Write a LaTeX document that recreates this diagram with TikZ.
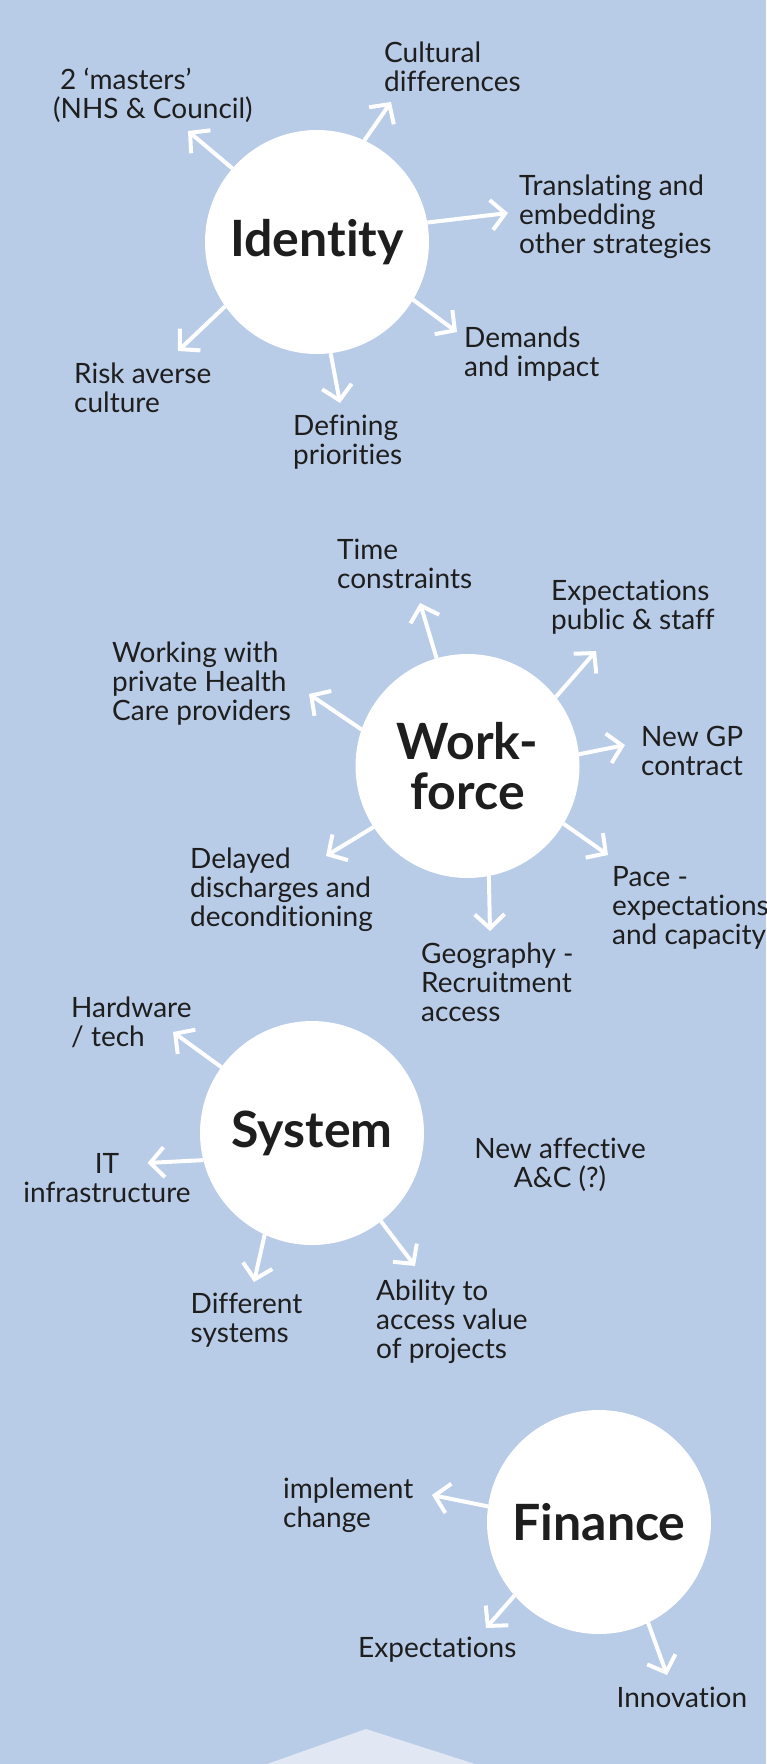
\documentclass[tikz,border=0pt]{standalone}
\usepackage{fontspec}
\setmainfont{Lato}[Ligatures={TeX,NoCommon}]
\usetikzlibrary{arrows.meta}

\definecolor{bgblue}{HTML}{B8CBE7}
\definecolor{paleblue}{HTML}{E1E8F4}
\definecolor{inkgray}{HTML}{1E1E1E}

\tikzset{
  topic/.style={circle, fill=white, minimum size=224pt, inner sep=0pt, outer sep=0pt,
    font=\fontsize{50}{50}\selectfont\bfseries, text=inkgray, align=center},
  lbl/.style={anchor=north west, yshift=20.3pt, inner sep=0pt, align=left,
    font=\fontsize{28}{29}\selectfont, text=inkgray},
  spoke/.style={white, line width=4pt, -{Straight Barb[length=14pt,width=30pt]}}
}

\begin{document}
\begin{tikzpicture}[x=1pt, y=-1pt]
  % background
  \fill[bgblue] (0,0) rectangle (766,1764);
  \useasboundingbox (0,0) rectangle (766,1764);
  \fill[paleblue] (366,1729) -- (475,1764) -- (267,1764) -- cycle;

  % Identity
  \node[topic] (id) at (317,242) {Identity};
  \node[lbl] (id-mas) at (53,88) {\hspace*{7pt}2 ‘masters’\\(NHS \& Council)};
  \node[lbl] (id-cul) at (384,62) {Cultural\\differences};
  \node[lbl] (id-tra) at (519,195) {Translating and\\embedding\\other strategies};
  \node[lbl] (id-dem) at (464,347) {Demands\\and impact};
  \node[lbl] (id-def) at (293,435) {Defining\\priorities};
  \node[lbl] (id-ris) at (74,383) {Risk averse\\culture};
  \coordinate (id-t1) at (188,131);
  \coordinate (id-t2) at (391,102);
  \coordinate (id-t3) at (508,213);
  \coordinate (id-t4) at (457,332);
  \coordinate (id-t5) at (340,403);
  \coordinate (id-t6) at (178,351);
  \draw[spoke] (id.139) -- (id-t1);
  \draw[spoke] (id.65) -- (id-t2);
  \draw[spoke] (id.10) -- (id-t3);
  \draw[spoke] (id.-31) -- (id-t4);
  \draw[spoke] (id.-83) -- (id-t5);
  \draw[spoke] (id.-145) -- (id-t6);

  % Workforce
  \node[topic] (wf) at (467.5,766) {Work-\\force};
  \node[lbl] (wf-tim) at (337,559) {Time\\constraints};
  \node[lbl] (wf-exp) at (551,600) {Expectations\\public \& staff};
  \node[lbl] (wf-wor) at (112,662) {Working with\\private Health\\Care providers};
  \node[lbl] (wf-gp) at (641,746) {New GP\\contract};
  \node[lbl] (wf-del) at (190,868) {Delayed\\discharges and\\deconditioning};
  \node[lbl] (wf-pac) at (612,887) {Pace -\\expectations\\and capacity};
  \node[lbl] (wf-geo) at (421,963) {Geography -\\Recruitment\\access};
  \coordinate (wf-t1) at (420,603);
  \coordinate (wf-t2) at (596,651);
  \coordinate (wf-t3) at (309,694);
  \coordinate (wf-t4) at (625,745);
  \coordinate (wf-t5) at (326,856);
  \coordinate (wf-t6) at (608,855);
  \coordinate (wf-t7) at (490,931);
  \draw[spoke] (wf.106) -- (wf-t1);
  \draw[spoke] (wf.38.5) -- (wf-t2);
  \draw[spoke] (wf.161) -- (wf-t3);
  \draw[spoke] (wf.6) -- (wf-t4);
  \draw[spoke] (wf.213) -- (wf-t5);
  \draw[spoke] (wf.-31) -- (wf-t6);
  \draw[spoke] (wf.-79) -- (wf-t7);

  % System
  \node[topic] (sy) at (312,1133) {System};
  \node[lbl] (sy-har) at (71,1017) {Hardware\\/ tech};
  \node[lbl, anchor=north, align=center] (sy-it) at (107,1174) {IT\\infrastructure};
  \node[lbl, anchor=north, align=center] (sy-new) at (560,1158) {New affective\\A\&C (?)};
  \node[lbl] (sy-dif) at (190.5,1313) {Different\\systems};
  \node[lbl] (sy-abi) at (376,1300) {Ability to\\access value\\of projects};
  \coordinate (sy-t1) at (173,1032);
  \coordinate (sy-t2) at (147.5,1163);
  \coordinate (sy-t3) at (254,1282);
  \coordinate (sy-t4) at (415,1266);
  \draw[spoke] (sy.144) -- (sy-t1);
  \draw[spoke] (sy.194) -- (sy-t2);
  \draw[spoke] (sy.245) -- (sy-t3);
  \draw[spoke] (sy.-52.5) -- (sy-t4);

  % Finance
  \node[topic] (fi) at (599,1522) {Finance};
  \node[lbl] (fi-imp) at (283,1498) {implement\\change};
  \node[lbl] (fi-exp) at (358,1657) {Expectations};
  \node[lbl] (fi-inn) at (616.5,1707) {Innovation};
  \coordinate (fi-t1) at (432,1495);
  \coordinate (fi-t2) at (486,1628);
  \coordinate (fi-t3) at (667,1675);
  \draw[spoke] (fi.172) -- (fi-t1);
  \draw[spoke] (fi.221) -- (fi-t2);
  \draw[spoke] (fi.-64.6) -- (fi-t3);
\end{tikzpicture}
\end{document}
